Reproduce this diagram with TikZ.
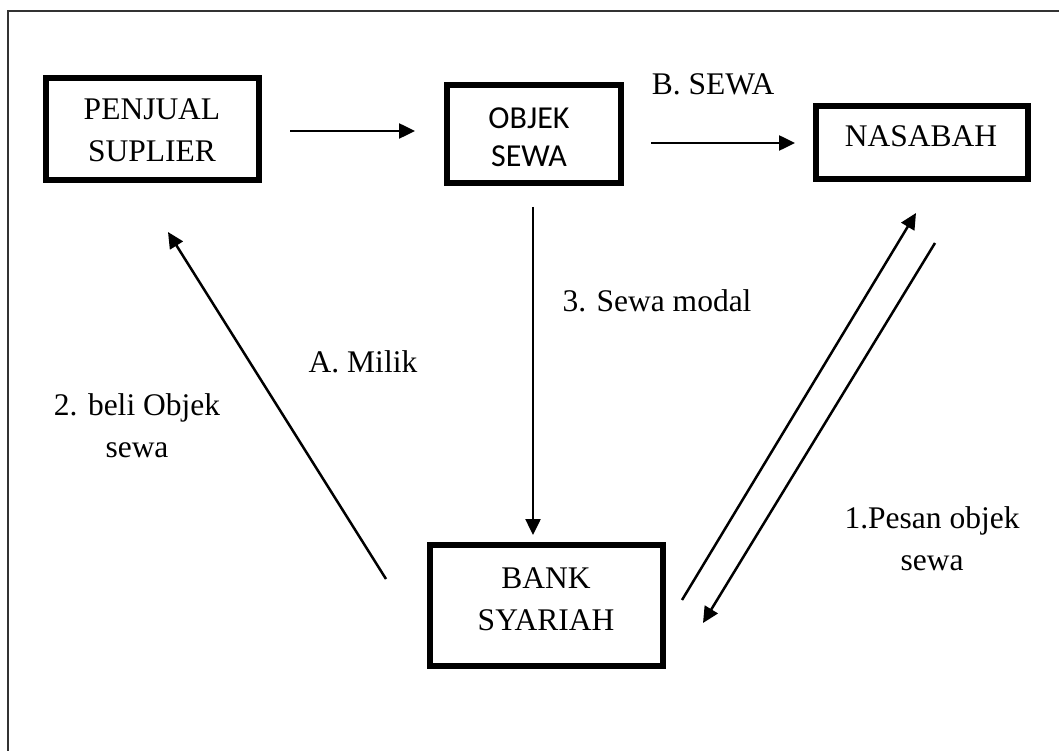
\documentclass[tikz,border=0pt]{standalone}
\usepackage{fontspec}
\setmainfont{Liberation Serif}
\newfontfamily\objfont{Carlito}
\usetikzlibrary{arrows.meta}

\begin{document}
\begin{tikzpicture}[x=1pt, y=-1pt,
  box/.style={draw, line width=6.5pt, inner sep=0pt},
  lbl/.style={inner sep=0pt, align=center,
    font=\fontsize{31.5}{42}\selectfont},
  sanslbl/.style={inner sep=0pt, align=center,
    font=\objfont\fontsize{32}{38}\selectfont},
  arr/.style={line width=2.5pt, -{Triangle[length=16pt,width=15pt]}}]

% canvas and frame
\useasboundingbox (0,0) rectangle (1059,751);
\draw[line width=1.5pt, black!80] (8,751) -- (8,11) -- (1059,11);

% boxes
\node[box, minimum width=213pt, minimum height=102pt] (penjual) at (152.5,129) {};
\node[box, minimum width=174pt, minimum height=98pt]  (objek)   at (534,134) {};
\node[box, minimum width=212pt, minimum height=73pt]  (nasabah) at (922,142.5) {};
\node[box, minimum width=233pt, minimum height=121pt] (bank)    at (546.5,605.5) {};

% box texts
\node[lbl]     (penjualT) at (152,130.5) {PENJUAL\\SUPLIER};
\node[sanslbl] (objekT)   at (529,137)   {OBJEK\\SEWA};
\node[lbl, anchor=base] (nasabahT) at (921,147) {NASABAH};
\node[lbl]     (bankT)    at (546,599) {BANK\\SYARIAH};

% connector end points
\coordinate (pjR) at (290,131);
\coordinate (obL) at (415,131);
\coordinate (obR) at (651,143);
\coordinate (nsL) at (795,143);
\coordinate (obB) at (533,207);
\coordinate (bkT) at (533,535);
\coordinate (bkUL) at (386,579);
\coordinate (pjB) at (168,232);
\coordinate (bkUR) at (682,600);
\coordinate (nsB1) at (916,213);
\coordinate (nsB2) at (935,243);
\coordinate (bkR) at (703,623);

% connectors
\draw[arr] (pjR) -- (obL);
\draw[arr] (obR) -- (nsL);
\draw[arr] (obB) -- (bkT);
\draw[arr] (bkUL) -- (pjB);
\draw[arr] (bkUR) -- (nsB1);
\draw[arr] (nsB2) -- (bkR);

% connector labels
\node[lbl, anchor=base] (lblB)  at (713,95)  {B. SEWA};
\node[lbl, anchor=base] (lbl3)  at (657,311) {3. Sewa modal};
\node[lbl, anchor=base] (lblA)  at (363,372) {A. Milik};
\node[lbl] (lbl2) at (137,426) {2. beli Objek\\sewa};
\node[lbl] (lbl1) at (932,539) {1.Pesan objek\\sewa};
\end{tikzpicture}
\end{document}
